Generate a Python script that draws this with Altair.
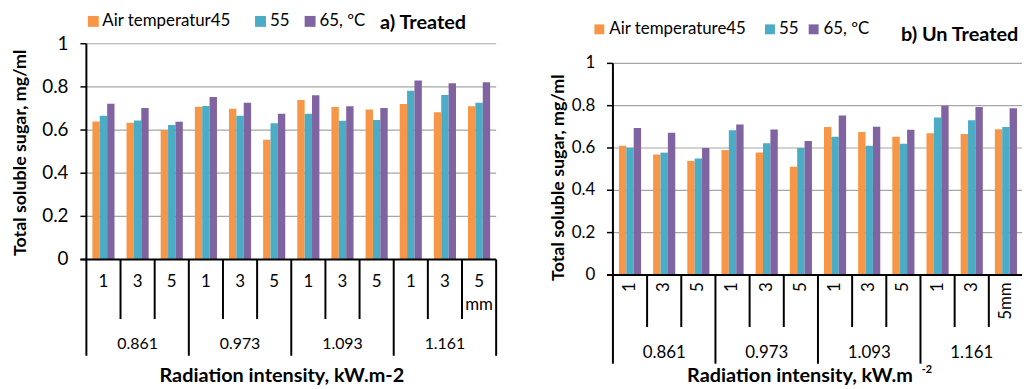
import altair as alt
import pandas as pd

# ---------------- data ----------------
groups = ["0.861", "0.973", "1.093", "1.161"]
thicknesses = ["1", "3", "5"]
series = ["45", "55", "65"]
colors = ["#F79646", "#4BACC6", "#8064A2"]

treated_45 = [0.640, 0.634, 0.600, 0.708, 0.699, 0.555, 0.739, 0.707, 0.695, 0.721, 0.683, 0.710]
treated_55 = [0.666, 0.644, 0.623, 0.711, 0.666, 0.632, 0.675, 0.643, 0.646, 0.782, 0.762, 0.727]
treated_65 = [0.722, 0.702, 0.638, 0.753, 0.727, 0.675, 0.761, 0.710, 0.702, 0.830, 0.817, 0.822]

untreated_45 = [0.611, 0.569, 0.539, 0.590, 0.579, 0.511, 0.699, 0.675, 0.653, 0.670, 0.666, 0.689]
untreated_55 = [0.601, 0.578, 0.550, 0.684, 0.622, 0.600, 0.653, 0.611, 0.620, 0.744, 0.731, 0.699]
untreated_65 = [0.694, 0.672, 0.600, 0.711, 0.687, 0.633, 0.753, 0.700, 0.686, 0.800, 0.794, 0.788]

y_ticks = [0, 0.2, 0.4, 0.6, 0.8, 1.0]
y_tick_labels = ["0", "0.2", "0.4", "0.6", "0.8", "1"]
left_x_labels = ["1", "3", "5", "1", "3", "5", "1", "3", "5", "1", "3", "5\nmm"]
right_x_labels = ["1", "3", "5", "1", "3", "5", "1", "3", "5", "1", "3", "5mm"]

keys = [f"{g}|{t}" for g in groups for t in thicknesses]

FONT = "Lato"


def bar_frame(s45, s55, s65):
    rows = []
    for i, k in enumerate(keys):
        for s, vals in zip(series, [s45, s55, s65]):
            rows.append({"key": k, "series": s, "value": vals[i]})
    return pd.DataFrame(rows)


def txt(s, x, y, size, bold=False, align="left", baseline="middle", angle=0, color="black"):
    kw = dict(font=FONT, fontSize=size, fontWeight="bold" if bold else "normal",
              align=align, baseline=baseline, color=color)
    if angle:
        kw["angle"] = angle
    return alt.Chart(pd.DataFrame({"t": [s]})).mark_text(**kw).encode(
        x=alt.value(x), y=alt.value(y), text="t:N")


def square(x, y, color, size):
    return alt.Chart(pd.DataFrame({"a": [0]})).mark_square(size=size, opacity=1, color=color).encode(
        x=alt.value(x), y=alt.value(y))


def panel(s45, s55, s65, x0, x1, y0, y1, cat_labels, rotated, sep_inner_end, sep_group_end,
          cat_label_y, group_label_y, tick_label_x, tick_font, cat_font, group_font,
          legend, title, ytitle, xtitle):
    xscale = alt.Scale(domain=keys, range=[x0, x1], paddingInner=0, paddingOuter=0)
    yscale = alt.Scale(domain=[0, 1], range=[y0, y1], nice=False, zero=True)
    df = bar_frame(s45, s55, s65)

    grid = alt.Chart(pd.DataFrame({"v": y_ticks[1:]})).mark_rule(
        color="#A6A6A6", strokeWidth=1.2).encode(
        y=alt.Y("v:Q", scale=yscale, axis=None), x=alt.value(x0), x2=alt.value(x1))

    bars = alt.Chart(df).mark_bar().encode(
        x=alt.X("key:N", scale=xscale, axis=None, sort=keys),
        xOffset=alt.XOffset("series:N", scale=alt.Scale(domain=series, paddingInner=0, paddingOuter=0.815)),
        y=alt.Y("value:Q", scale=yscale, axis=None),
        color=alt.Color("series:N", scale=alt.Scale(domain=series, range=colors), legend=None),
    )

    yaxis = alt.Chart(pd.DataFrame({"lo": [0], "hi": [1]})).mark_rule(
        color="black", strokeWidth=2).encode(
        y=alt.Y("lo:Q", scale=yscale, axis=None), y2="hi:Q", x=alt.value(x0))

    xaxis = alt.Chart(pd.DataFrame({"v": [0]})).mark_rule(
        color="black", strokeWidth=2).encode(
        y=alt.Y("v:Q", scale=yscale, axis=None), x=alt.value(x0 - 6), x2=alt.value(x1))

    yticks = alt.Chart(pd.DataFrame({"v": y_ticks})).mark_rule(
        color="black", strokeWidth=1.5).encode(
        y=alt.Y("v:Q", scale=yscale, axis=None), x=alt.value(x0 - 6), x2=alt.value(x0))

    ylabels = alt.Chart(pd.DataFrame({"v": y_ticks, "t": y_tick_labels})).mark_text(
        font=FONT, fontSize=tick_font, align="right", baseline="middle", color="black").encode(
        y=alt.Y("v:Q", scale=yscale, axis=None), x=alt.value(tick_label_x), text="t:N")

    inner_keys = [keys[i] for i in range(12) if i % 3 != 0]
    group_keys = [keys[i] for i in range(0, 12, 3)]

    sep_inner = alt.Chart(pd.DataFrame({"key": inner_keys})).mark_rule(
        color="black", strokeWidth=2).encode(
        x=alt.X("key:N", scale=xscale, axis=None, bandPosition=0),
        y=alt.value(y0), y2=alt.value(sep_inner_end))
    sep_group = alt.Chart(pd.DataFrame({"key": group_keys})).mark_rule(
        color="black", strokeWidth=2).encode(
        x=alt.X("key:N", scale=xscale, axis=None, bandPosition=0),
        y=alt.value(y0), y2=alt.value(sep_group_end))
    sep_end = alt.Chart(pd.DataFrame({"key": [keys[-1]]})).mark_rule(
        color="black", strokeWidth=2).encode(
        x=alt.X("key:N", scale=xscale, axis=None, bandPosition=1),
        y=alt.value(y0), y2=alt.value(sep_group_end))

    lab_df = pd.DataFrame({"key": keys, "t": cat_labels})
    if rotated:
        cat_lab = alt.Chart(lab_df).mark_text(
            font=FONT, fontSize=cat_font, align="right", baseline="middle", angle=270, color="black").encode(
            x=alt.X("key:N", scale=xscale, axis=None, bandPosition=0.5),
            y=alt.value(cat_label_y), text="t:N")
    else:
        cat_lab = alt.Chart(lab_df).mark_text(
            font=FONT, fontSize=cat_font, align="center", baseline="top", lineBreak="\n",
            lineHeight=23, color="black").encode(
            x=alt.X("key:N", scale=xscale, axis=None, bandPosition=0.5),
            y=alt.value(cat_label_y), text="t:N")

    grp_df = pd.DataFrame({"key": [keys[i] for i in range(1, 12, 3)], "t": groups})
    grp_lab = alt.Chart(grp_df).mark_text(
        font=FONT, fontSize=group_font, align="center", baseline="middle", color="black").encode(
        x=alt.X("key:N", scale=xscale, axis=None, bandPosition=0.5),
        y=alt.value(group_label_y), text="t:N")

    layers = [grid, bars, yticks, yaxis, xaxis, sep_inner, sep_group, sep_end, ylabels, cat_lab, grp_lab]
    layers += legend + title + ytitle + xtitle
    return alt.layer(*layers)


# ---------------- left panel (a) Treated) ----------------
left = panel(
    treated_45, treated_55, treated_65,
    x0=79, x1=492, y0=252, y1=34.5,
    cat_labels=left_x_labels, rotated=False,
    sep_inner_end=312, sep_group_end=349,
    cat_label_y=267, group_label_y=337, tick_label_x=61,
    tick_font=19, cat_font=17, group_font=16,
    legend=[
        square(86, 12, colors[0], 121), txt("Air temperatur45", 95, 12, 17),
        square(254.5, 12, colors[1], 121), txt("55", 264, 12, 17),
        square(304.5, 12, colors[2], 121), txt("65, ºC", 314, 12, 17),
    ],
    title=[txt("a) Treated", 375, 14, 20, bold=True)],
    ytitle=[txt("Total soluble sugar, mg/ml", 13.5, 144.5, 18, bold=True, align="center", angle=270)],
    xtitle=[txt("Radiation intensity, kW.m-2", 276, 369, 20, bold=True, align="center")],
)

# ---------------- right panel (b) Un Treated) ----------------
right = panel(
    untreated_45, untreated_55, untreated_65,
    x0=609.7, x1=1023, y0=267.5, y1=54.3,
    cat_labels=right_x_labels, rotated=True,
    sep_inner_end=320, sep_group_end=357,
    cat_label_y=275, group_label_y=346, tick_label_x=592,
    tick_font=17, cat_font=17, group_font=17,
    legend=[
        square(596, 20, colors[0], 100), txt("Air temperature45", 606, 20, 17),
        square(768, 20, colors[1], 100), txt("55", 777, 20, 17),
        square(812, 20, colors[2], 100), txt("65, ºC", 822, 20, 17),
    ],
    title=[txt("b) Un Treated", 900, 26, 20, bold=True)],
    ytitle=[txt("Total soluble sugar, mg/ml", 555, 169.5, 18, bold=True, align="center", angle=270)],
    xtitle=[txt("Radiation intensity, kW.m", 912, 369, 20, bold=True, align="right"),
            txt("-2", 921, 363.5, 11, bold=True)],
)

chart = alt.layer(left, right).resolve_scale(
    x="independent", y="independent", xOffset="independent"
).properties(
    width=1022, height=381, padding=0, autosize=alt.AutoSizeParams(type="none")
).configure_view(stroke=None)

chart.save("out.html", embed_options={"renderer": "svg", "actions": False})
